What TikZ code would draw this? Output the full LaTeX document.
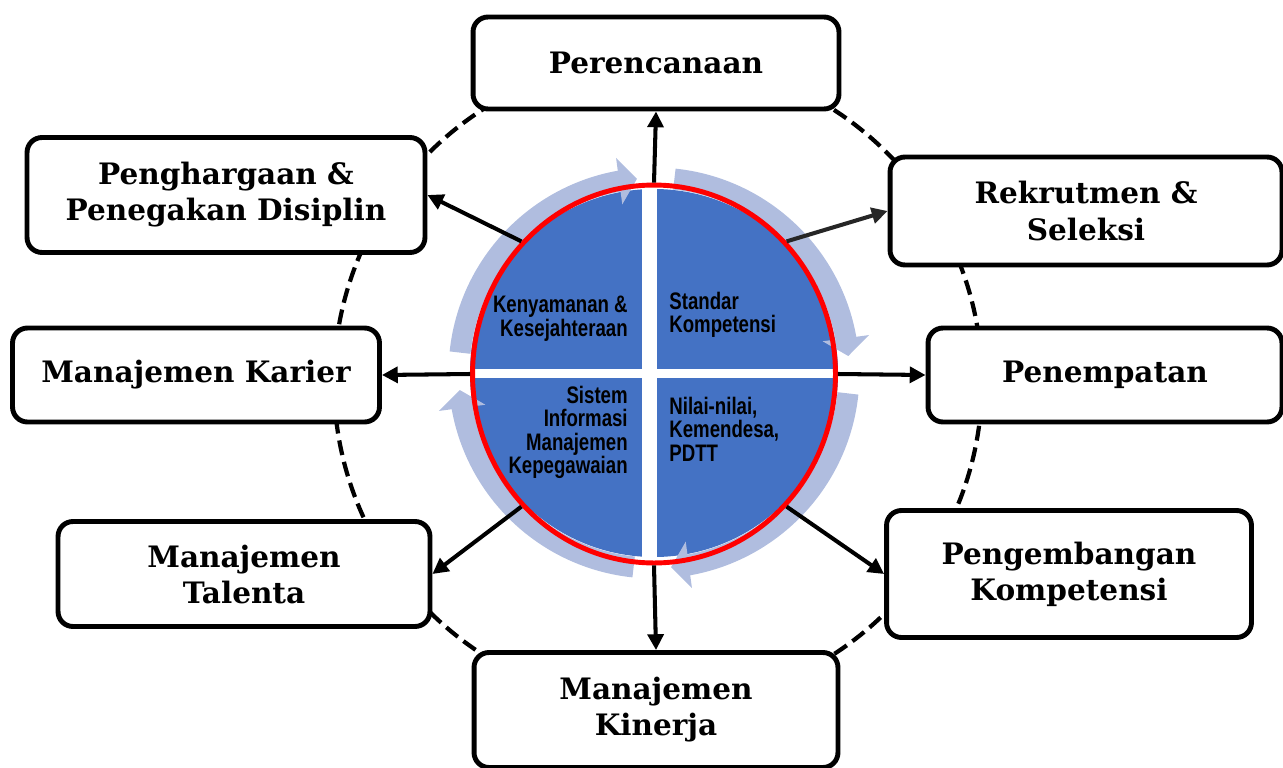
\documentclass[tikz,border=0pt]{standalone}
\usepackage{fontspec}
\setmainfont{DejaVu Serif}
\newfontfamily\piefont[FakeStretch=0.78]{Liberation Sans}
\usetikzlibrary{arrows.meta,bending,shapes.geometric}
\definecolor{pieblue}{HTML}{4472C4}
\definecolor{ringblue}{HTML}{B0BDDF}
\tikzset{
	box/.style={draw, line width=2.8pt, rounded corners=8.5pt, fill=white, align=center,
		font=\bfseries\fontsize{16.8}{20.5}\selectfont},
	spoke/.style={line width=2.3pt, -{Triangle[length=9pt,width=9pt]}},
	turn/.style={ringblue, line width=0.42cm, -{Triangle[length=0.36cm,width=0.92cm]}},
	pietext/.style={inner sep=0pt, font=\piefont\bfseries\fontsize{13.6}{13.2}\selectfont}
}
\begin{document}
\begin{tikzpicture}[x=0.02cm, y=-0.02cm]
	\useasboundingbox (0,0) rectangle (1283,767);
	% dashed ring behind the eight boxes
	\draw[line width=2.4pt, dash pattern=on 8.5pt off 4pt] (658,382) circle (324);
	\node[box, minimum width=7.32cm, minimum height=1.84cm] (plan)   at (656,63)   {Perencanaan};
	\node[box, minimum width=7.84cm, minimum height=2.16cm] (rek)    at (1086,211) {Rekrutmen \&\\Seleksi};
	\node[box, minimum width=7.08cm, minimum height=1.88cm] (place)  at (1105,375) {Penempatan};
	\node[box, minimum width=7.30cm, minimum height=2.54cm] (dev)    at (1069,574) {Pengembangan\\Kompetensi};
	\node[box, minimum width=7.28cm, minimum height=2.30cm] (perf)   at (656,710)  {Manajemen\\Kinerja};
	\node[box, minimum width=7.44cm, minimum height=2.10cm] (talent) at (244,574)  {Manajemen\\Talenta};
	\node[box, minimum width=7.34cm, minimum height=1.88cm] (career) at (196,375)  {Manajemen Karier};
	\node[box, minimum width=7.96cm, minimum height=2.30cm] (award)  at (226,195)  {Penghargaan \&\\Penegakan Disiplin};
	% pie in the middle
	\coordinate (o) at (654,373);
	\fill[pieblue] (o) circle (184);
	\draw[white, line width=0.30cm] (649,182) -- (649,566);
	\draw[white, line width=0.18cm] (466,373.5) -- (842,373.5);
	\foreach \s/\e in {174/95, 84/5, -6/-85, -96/-175}
		\draw[turn] (o) ++(-\s:195) arc[start angle=-\s, end angle=-\e, radius=195];
	\node[draw=red, line width=2.8pt, ellipse, inner sep=0pt, minimum width=7.26cm, minimum height=7.56cm] (hub) at (654,374) {};
	\draw[spoke] (hub.north) -- (plan.south);
	\draw[spoke, draw=black!85] (hub.45) -- (rek.west);
	\draw[spoke] (hub.east) -- (place.west);
	\draw[spoke] (hub.-45) -- (dev.west);
	\draw[spoke] (hub.south) -- (perf.north);
	\draw[spoke] (hub.-135) -- (talent.east);
	\draw[spoke] (hub.west) -- (career.east);
	\draw[spoke] (hub.135) -- (award.east);
	\node[pietext, align=right, anchor=north east] (comfort) at (628,296) {Kenyamanan \&\\Kesejahteraan};
	\node[pietext, align=left,  anchor=north west] (std)     at (669,292) {Standar\\Kompetensi};
	\node[pietext, align=right, anchor=north east] (sim)     at (628,386) {Sistem\\Informasi\\Manajemen\\Kepegawaian};
	\node[pietext, align=left,  anchor=north west] (values)  at (669,397) {Nilai-nilai,\\Kemendesa,\\PDTT};
\end{tikzpicture}
\end{document}
